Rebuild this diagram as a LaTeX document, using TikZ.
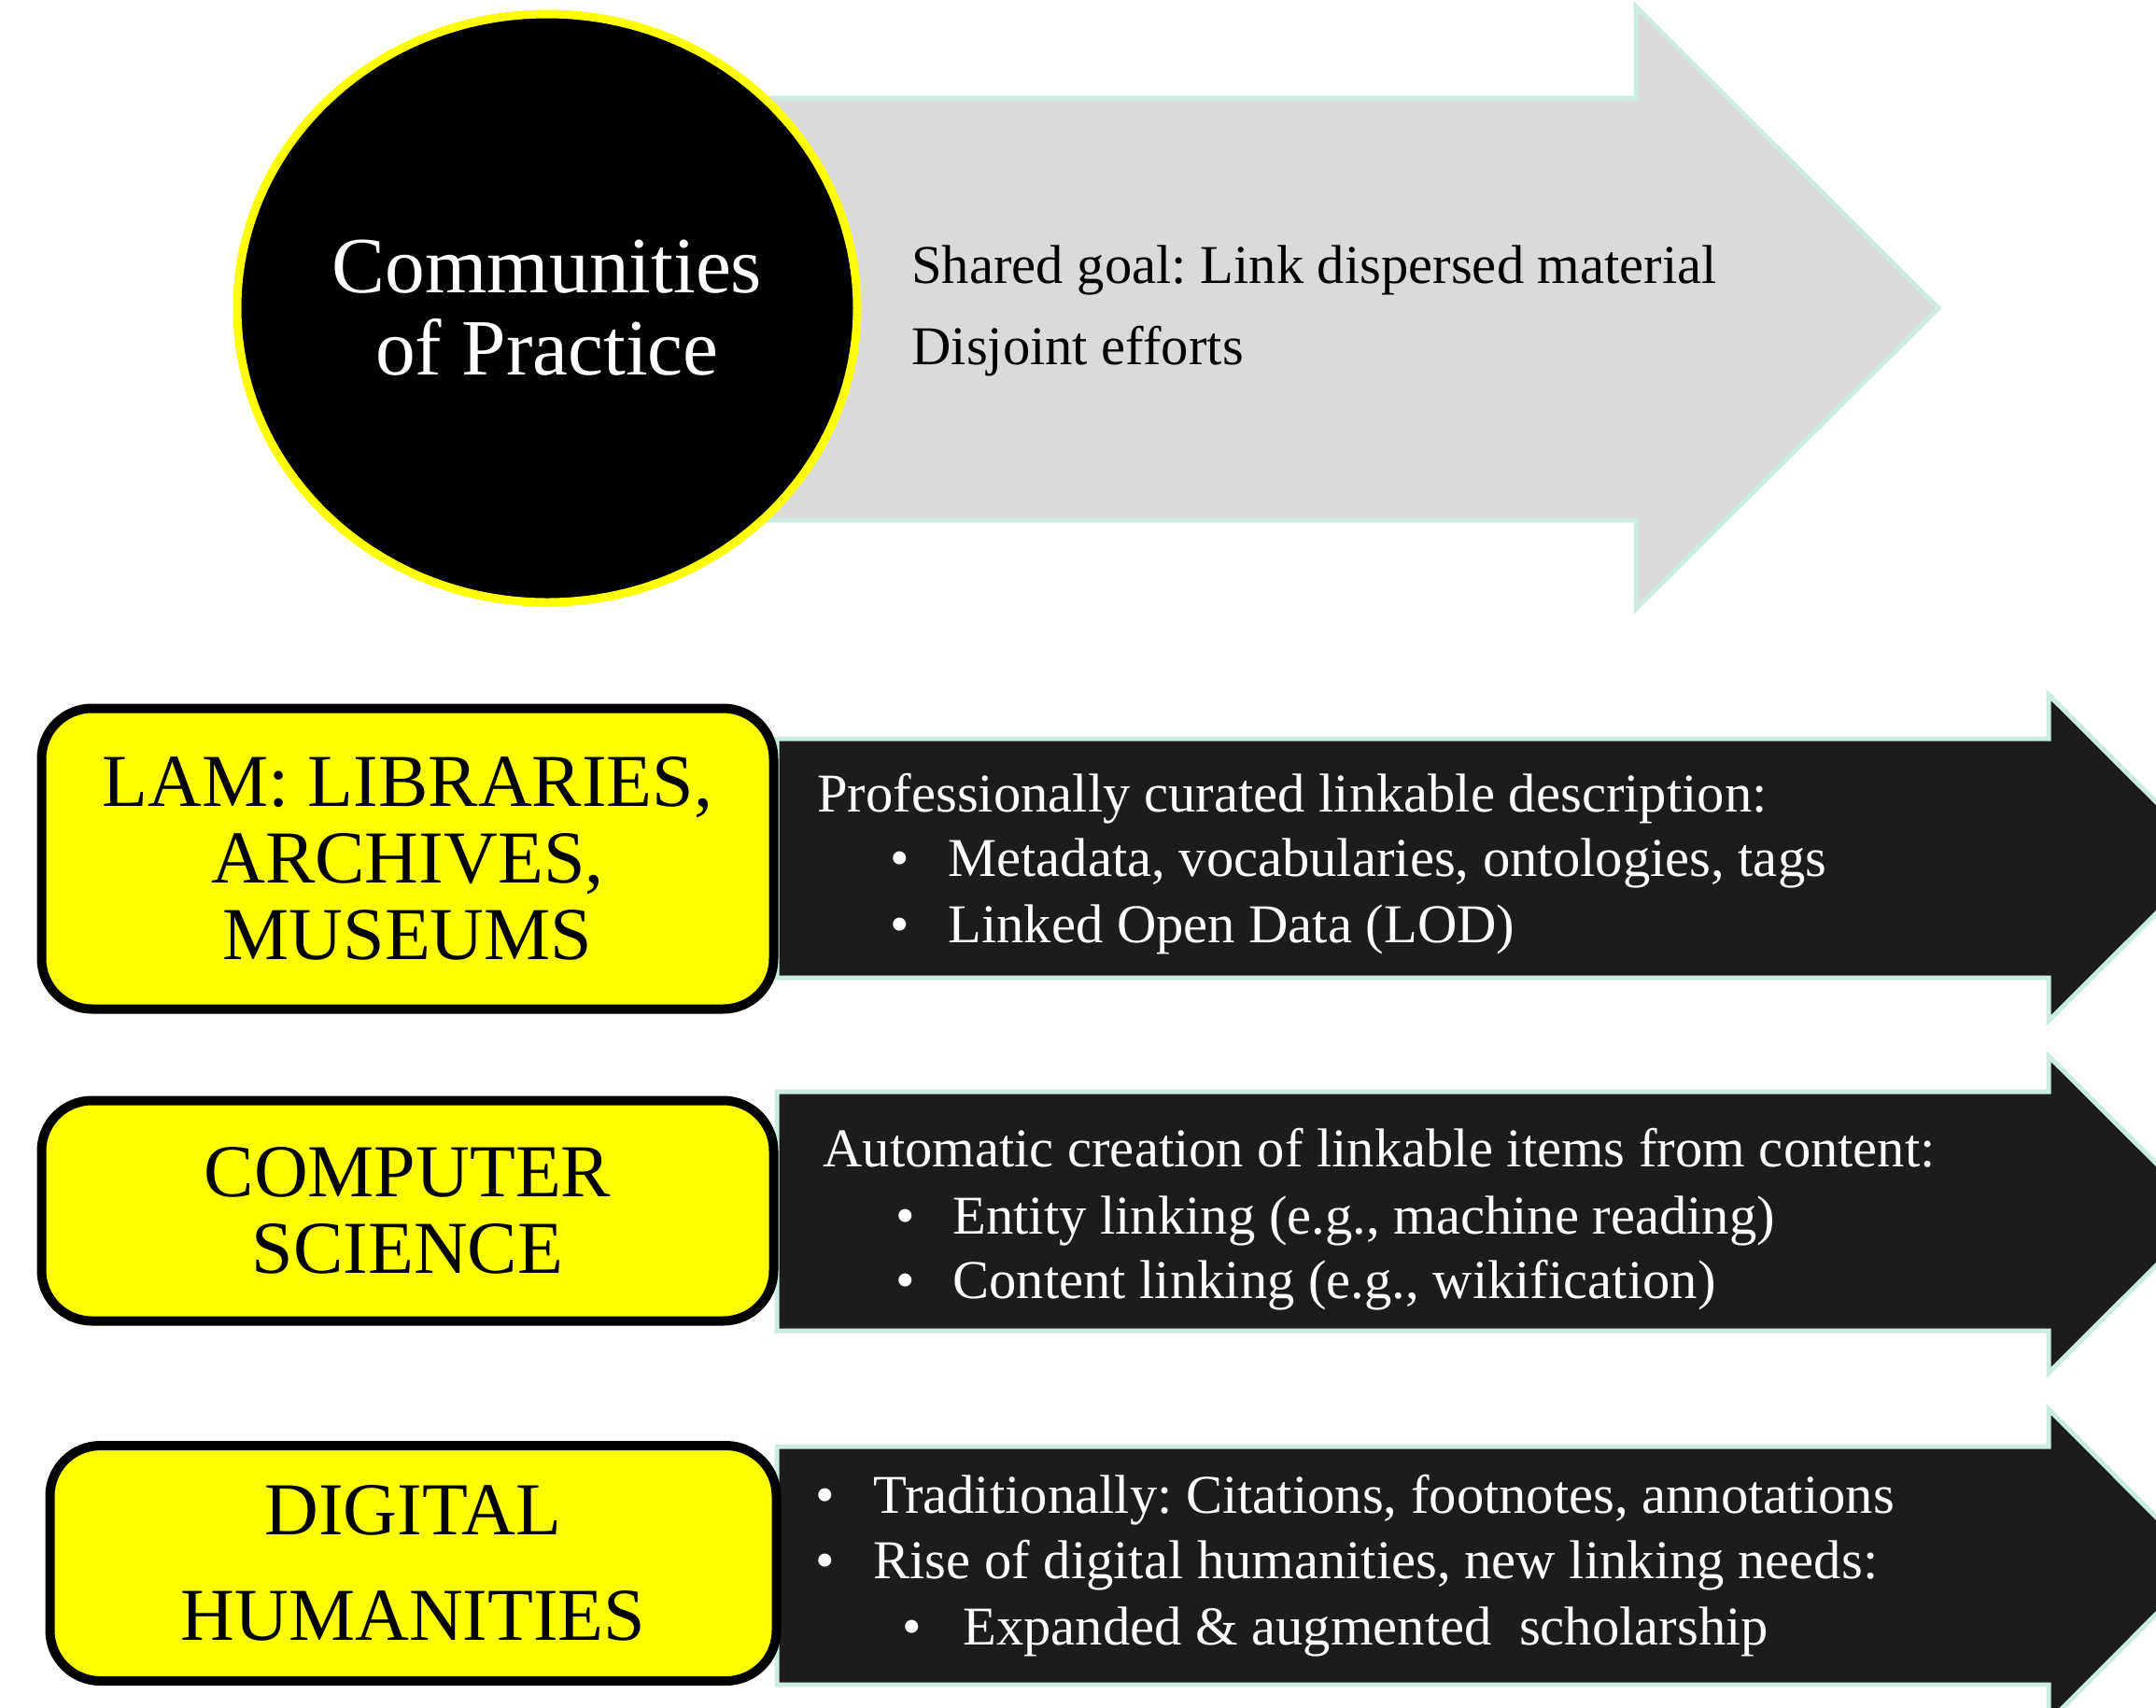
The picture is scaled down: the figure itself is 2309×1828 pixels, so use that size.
\documentclass[tikz,border=0pt]{standalone}
\usepackage{fontspec}
\setmainfont{Liberation Serif}
\usetikzlibrary{shapes.geometric}
\frenchspacing

\definecolor{slidegray}{RGB}{218,218,218}
\definecolor{mintline}{RGB}{204,236,224}
\definecolor{arrowblack}{RGB}{28,28,28}
\definecolor{boxyellow}{RGB}{255,255,0}

\begin{document}
\begin{tikzpicture}[x=0.5pt,y=0.5pt,yscale=-1,xscale=1,
    grayarrow/.style={draw=mintline,line width=2.5pt,fill=slidegray},
    darkarrow/.style={draw=mintline,line width=2.5pt,fill=arrowblack},
    fieldbox/.style={draw=black,line width=5pt,fill=boxyellow,rounded corners=27pt,inner sep=0pt,align=center},
    bodytext/.style={anchor=base west,inner sep=0pt,font=\fontsize{29.3}{35}\selectfont},
    whitetext/.style={bodytext,text=white}]
        \useasboundingbox (0,0) rectangle (2309,1828);
        \clip (0,0) rectangle (2309,1828);

        %Shape: Right Arrow [grey, behind the circle]
        \draw [grayarrow] (600,105) -- (1752,105) -- (1752,7) -- (2076,330) -- (1752,652) -- (1752,557) -- (600,557) -- cycle ;
        %Shape: Ellipse
        \node (cop) at (586,330) [ellipse,draw=boxyellow,line width=4.5pt,fill=black,text=white,
            minimum width=332pt,minimum height=315pt,inner sep=0pt,align=center,
            font=\fontsize{42.7}{44}\selectfont] {Communities\\of Practice};

        %Shape: Right Arrow [dark, one per row]
        \draw [darkarrow] (832,791) -- (2194,791) -- (2194,744) -- (2369,918.5) -- (2194,1093) -- (2194,1047) -- (832,1047) -- cycle ;
        \draw [darkarrow] (832,1169) -- (2194,1169) -- (2194,1131) -- (2364,1300.5) -- (2194,1470) -- (2194,1425) -- (832,1425) -- cycle ;
        \draw [darkarrow] (832,1549) -- (2194,1549) -- (2194,1509) -- (2361,1676.5) -- (2194,1844) -- (2194,1804) -- (832,1804) -- cycle ;

        %Shape: Rounded Rectangle
        \node (lam) at (436.5,919.5) [fieldbox,minimum width=392pt,minimum height=161pt,
            font=\fontsize{40}{41}\selectfont] {LAM: LIBRARIES,\\ARCHIVES,\\MUSEUMS};
        %Shape: Rounded Rectangle
        \node (cs) at (436.5,1296.5) [fieldbox,minimum width=392pt,minimum height=118pt,
            font=\fontsize{40}{41}\selectfont] {COMPUTER\\SCIENCE};
        %Shape: Rounded Rectangle
        \node (dh) at (442.5,1674) [fieldbox,minimum width=389pt,minimum height=126pt,
            font=\fontsize{40}{56.5}\selectfont] {DIGITAL\\HUMANITIES};

        % Text Node
        \draw (976,303) node (goal) [bodytext] {Shared goal: Link dispersed material};
        % Text Node
        \draw (976,390) node (efforts) [bodytext] {Disjoint efforts};

        % Text Node
        \draw (875,869) node (curated) [whitetext] {Professionally curated linkable description:};
        \draw (953,938) node (bulA) [whitetext] {\textbullet};
        \draw (1015,938) node (metadata) [whitetext] {Metadata, vocabularies, ontologies, tags};
        \draw (953,1009) node (bulB) [whitetext] {\textbullet};
        \draw (1015,1009) node (lod) [whitetext] {Linked Open Data (LOD)};

        % Text Node
        \draw (881,1249) node (automatic) [whitetext] {Automatic creation of linkable items from content:};
        \draw (959,1321) node (bulC) [whitetext] {\textbullet};
        \draw (1020,1321) node (entity) [whitetext] {Entity linking (e.g., machine reading)};
        \draw (959,1390) node (bulD) [whitetext] {\textbullet};
        \draw (1020,1390) node (content) [whitetext] {Content linking (e.g., wikification)};

        % Text Node
        \draw (873,1620) node (bulE) [whitetext] {\textbullet};
        \draw (935,1620) node (traditional) [whitetext] {Traditionally: Citations, footnotes, annotations};
        \draw (873,1690) node (bulF) [whitetext] {\textbullet};
        \draw (935,1690) node (rise) [whitetext] {Rise of digital humanities, new linking needs:};
        \draw (966,1761) node (bulG) [whitetext] {\textbullet};
        \draw (1031,1761) node (expanded) [whitetext] {Expanded \& augmented\ \ scholarship};

\end{tikzpicture}
\end{document}
